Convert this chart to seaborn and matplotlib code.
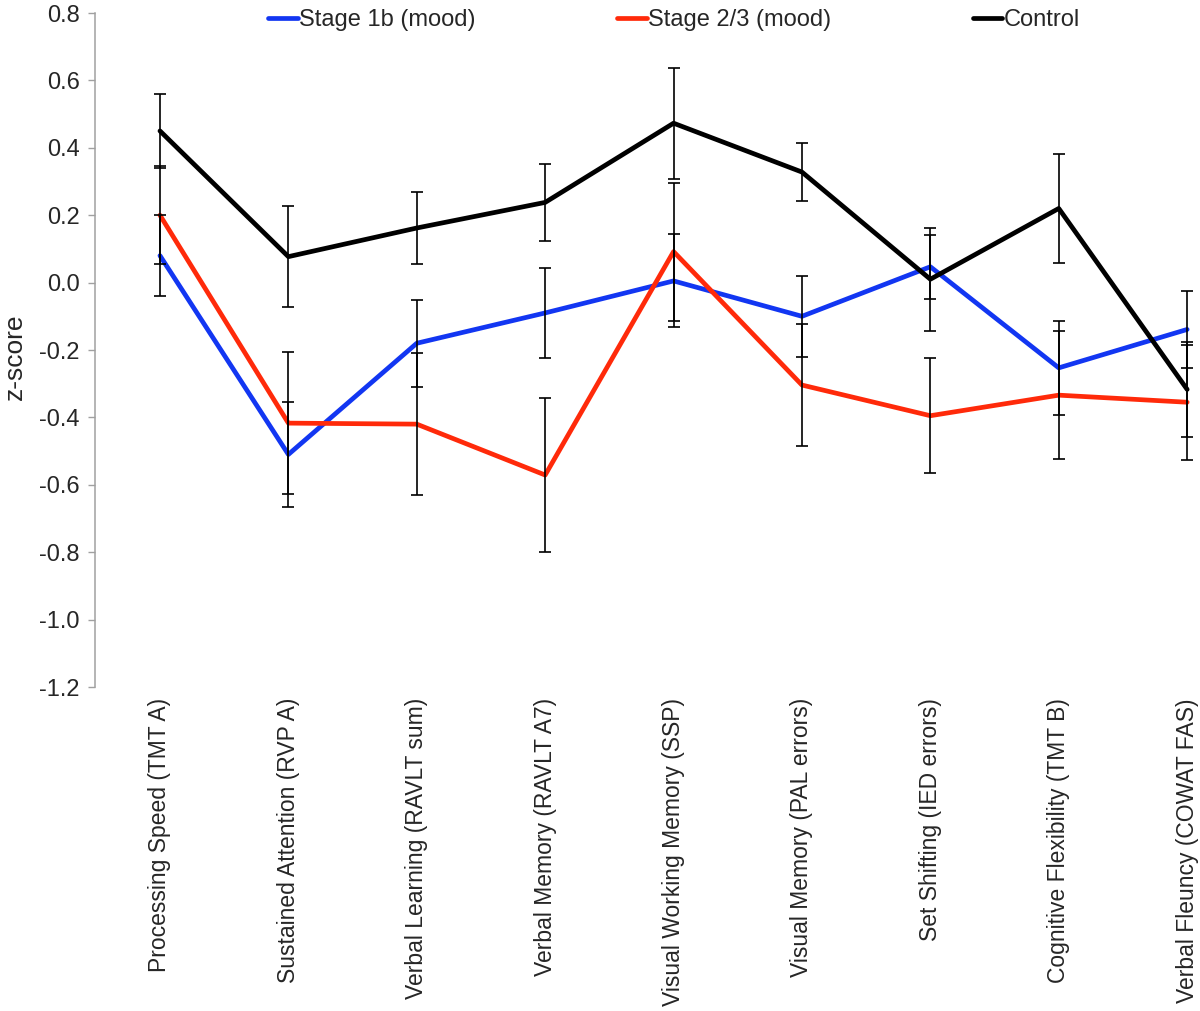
import numpy as np
import pandas as pd
import matplotlib
matplotlib.use("Agg")
import matplotlib.pyplot as plt
import seaborn as sns

# Cognitive domains (x categories)
domains = [
    "Processing Speed (TMT A)",
    "Sustained Attention (RVP A)",
    "Verbal Learning (RAVLT sum)",
    "Verbal Memory (RAVLT A7)",
    "Visual Working Memory (SSP)",
    "Visual Memory (PAL errors)",
    "Set Shifting (IED errors)",
    "Cognitive Flexibility (TMT B)",
    "Verbal Fleuncy (COWAT FAS)",
]

# Mean z-scores per group
stage1b = [0.08, -0.51, -0.18, -0.09, 0.005, -0.10, 0.047, -0.253, -0.139]
stage23 = [0.20, -0.417, -0.42, -0.571, 0.092, -0.304, -0.395, -0.334, -0.355]
control = [0.45, 0.077, 0.162, 0.238, 0.473, 0.328, 0.01, 0.22, -0.317]

# Error bar half-widths
stage1b_err = [0.12, 0.157, 0.129, 0.133, 0.138, 0.12, 0.095, 0.14, 0.115]
stage23_err = [0.145, 0.21, 0.21, 0.228, 0.205, 0.18, 0.17, 0.19, 0.17]
control_err = [0.11, 0.15, 0.108, 0.115, 0.165, 0.087, 0.153, 0.163, 0.14]

yticks = [-1.2, -1.0, -0.8, -0.6, -0.4, -0.2, 0.0, 0.2, 0.4, 0.6, 0.8]

groups = ["Stage 1b (mood)", "Stage 2/3 (mood)", "Control"]
colors = ["#1236F2", "#FF2A0A", "#000000"]

df = pd.concat([
    pd.DataFrame({"idx": range(len(domains)), "z": vals, "err": errs, "group": g})
    for g, vals, errs in zip(groups, [stage1b, stage23, control],
                             [stage1b_err, stage23_err, control_err])
], ignore_index=True)

sns.set_style("white")
plt.rcParams["font.family"] = ["Liberation Sans", "DejaVu Sans"]
plt.rcParams["axes.unicode_minus"] = False

fig = plt.figure(figsize=(12, 10.11), dpi=100)
ax = fig.add_axes([95 / 1200, 1 - 687 / 1011, 1 - 95 / 1200, 674 / 1011])

sns.lineplot(data=df, x="idx", y="z", hue="group", hue_order=groups,
             palette=colors, linewidth=3.4, sort=False, legend=False, ax=ax)

# error bars (black, on top of the lines)
for g in groups:
    sub = df[df["group"] == g]
    ax.errorbar(sub["idx"], sub["z"], yerr=sub["err"], fmt="none",
                ecolor="black", elinewidth=1.2, capsize=4.5, capthick=1.2, zorder=5)

ax.set_xlim(-0.506, 8.1)
ax.set_ylim(-1.2, 0.8)
ax.set_yticks(yticks)
ax.set_yticklabels([f"{t:.1f}" for t in yticks])
ax.set_xticks(range(len(domains)))
ax.set_xticklabels(domains, rotation=90, va="top", ha="center")

ax.tick_params(axis="y", left=True, length=5, width=1, color="#A0A0A0",
               labelsize=17, pad=6)
ax.tick_params(axis="x", bottom=False, length=0, labelsize=16.5, pad=8)

for s in ["top", "right", "bottom"]:
    ax.spines[s].set_visible(False)
ax.spines["left"].set_color("#A0A0A0")
ax.spines["left"].set_linewidth(1.1)

ax.set_xlabel("")
ax.set_ylabel("z-score", fontsize=19)
ax.yaxis.set_label_coords(-0.062, 0.49)

handles = [plt.Line2D([], [], color=c, lw=3.4) for c in colors]
fig.legend(handles, groups, loc="center", ncol=3, frameon=False,
           bbox_to_anchor=(674 / 1200, 1 - 20 / 1011), fontsize=17,
           handlelength=1.25, handletextpad=0.05, columnspacing=6.0,
           borderpad=0)

fig.savefig("out.png", dpi=100)
